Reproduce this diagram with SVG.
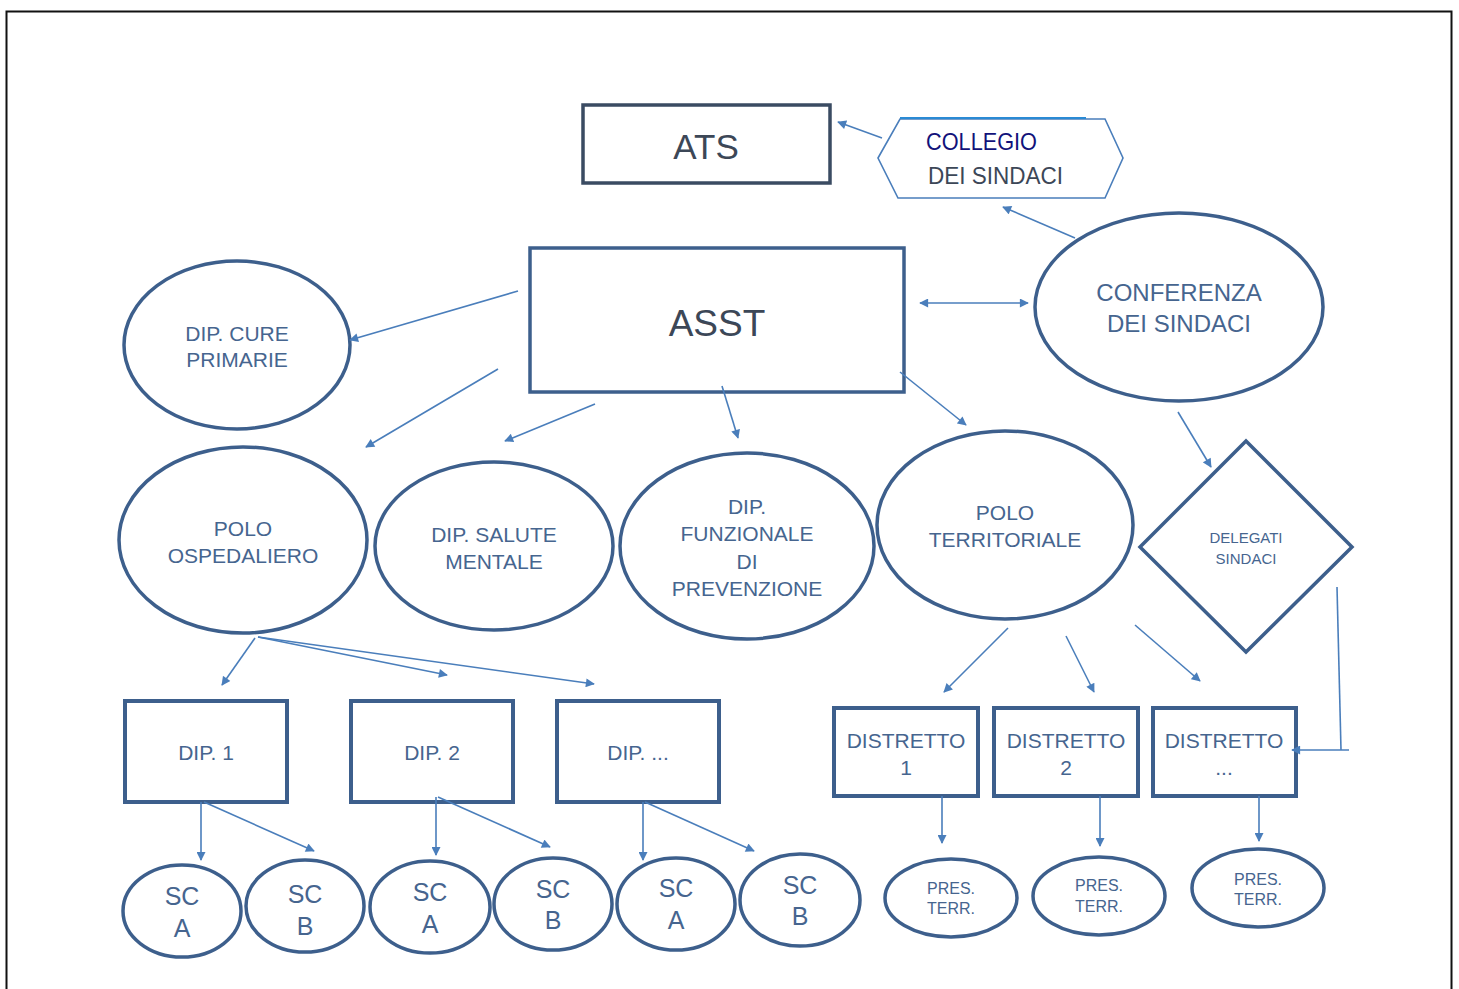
<svg xmlns="http://www.w3.org/2000/svg" width="1459" height="989" viewBox="0 0 1459 989">
<defs>
<marker id="ah" viewBox="0 0 10 10" refX="9" refY="5" markerWidth="10" markerHeight="9" markerUnits="userSpaceOnUse" orient="auto-start-reverse">
<path d="M0,0 L10,5 L0,10 z" fill="#4a7ebb"/>
</marker>
<style>
.n{fill:#fff;stroke:#3d5f8c;stroke-width:3.5}
.b{fill:#fff;stroke:#3d5f8c;stroke-width:4}
.t{font-family:"Liberation Sans",Arial,sans-serif;fill:#46658f;text-anchor:middle}
.c{stroke:#4a7ebb;stroke-width:1.6;fill:none;marker-end:url(#ah)}
</style>
</defs>
<rect x="0" y="0" width="1459" height="989" fill="#fff"/>
<rect x="6.5" y="11.5" width="1445" height="1000" fill="none" stroke="#111" stroke-width="2"/>

<g id="ats">
<rect x="583" y="105" width="247" height="78" fill="#fff" stroke="#3a4b62" stroke-width="3.5"/>
<text x="706" y="159" class="t" font-size="35" style="fill:#3c4757">ATS</text>
</g>
<g id="collegio">
<polygon points="878,158 900,119 1105,119 1123,158 1105,198 898,198" fill="#fff" stroke="#4a7ebb" stroke-width="1.6"/>
<line x1="900" y1="118" x2="1086" y2="118" stroke="#2a8ad4" stroke-width="2"/>
<text x="926" y="150" font-family="Liberation Sans,Arial,sans-serif" font-size="24" fill="#12127a" textLength="111" lengthAdjust="spacingAndGlyphs">COLLEGIO</text>
<text x="928" y="184" font-family="Liberation Sans,Arial,sans-serif" font-size="24" fill="#3c4757" textLength="135" lengthAdjust="spacingAndGlyphs">DEI SINDACI</text>
</g>
<g id="asst">
<rect x="530" y="248" width="374" height="144" class="n"/>
<text x="717" y="336" class="t" font-size="37" style="fill:#3c4757">ASST</text>
</g>
<g id="conferenza">
<ellipse cx="1179" cy="307" rx="144" ry="94" class="n"/>
<text x="1179" y="301" class="t" font-size="24">CONFERENZA</text>
<text x="1179" y="332" class="t" font-size="24">DEI SINDACI</text>
</g>
<g id="cure">
<ellipse cx="237" cy="345" rx="113" ry="84" class="n"/>
<text x="237" y="341" class="t" font-size="21">DIP. CURE</text>
<text x="237" y="367" class="t" font-size="21">PRIMARIE</text>
</g>
<g id="ospedaliero">
<ellipse cx="243" cy="540" rx="124" ry="93" class="n"/>
<text x="243" y="536" class="t" font-size="21">POLO</text>
<text x="243" y="563" class="t" font-size="21">OSPEDALIERO</text>
</g>
<g id="salute">
<ellipse cx="494" cy="546" rx="119" ry="84" class="n"/>
<text x="494" y="542" class="t" font-size="21">DIP. SALUTE</text>
<text x="494" y="569" class="t" font-size="21">MENTALE</text>
</g>
<g id="prevenzione">
<ellipse cx="747" cy="546" rx="127" ry="93" class="n"/>
<text x="747" y="514" class="t" font-size="21">DIP.</text>
<text x="747" y="541" class="t" font-size="21">FUNZIONALE</text>
<text x="747" y="569" class="t" font-size="21">DI</text>
<text x="747" y="596" class="t" font-size="21">PREVENZIONE</text>
</g>
<g id="territoriale">
<ellipse cx="1005" cy="525" rx="128" ry="94" class="n"/>
<text x="1005" y="520" class="t" font-size="21">POLO</text>
<text x="1005" y="547" class="t" font-size="21">TERRITORIALE</text>
</g>
<g id="delegati">
<polygon points="1246,441 1352,547 1246,652 1140,547" class="n"/>
<text x="1246" y="543" class="t" font-size="15">DELEGATI</text>
<text x="1246" y="564" class="t" font-size="15">SINDACI</text>
</g>

<g id="dip1"><rect x="125" y="701" width="162" height="101" class="b"/><text x="206" y="760" class="t" font-size="21">DIP. 1</text></g>
<g id="dip2"><rect x="351" y="701" width="162" height="101" class="b"/><text x="432" y="760" class="t" font-size="21">DIP. 2</text></g>
<g id="dip3"><rect x="557" y="701" width="162" height="101" class="b"/><text x="638" y="760" class="t" font-size="21">DIP. ...</text></g>

<g id="sc1a"><ellipse cx="182" cy="911" rx="59" ry="46" class="n"/><text x="182" y="905" class="t" font-size="25">SC</text><text x="182" y="937" class="t" font-size="25">A</text></g>
<g id="sc1b"><ellipse cx="305" cy="906" rx="59" ry="46" class="n"/><text x="305" y="903" class="t" font-size="25">SC</text><text x="305" y="935" class="t" font-size="25">B</text></g>
<g id="sc2a"><ellipse cx="430" cy="907" rx="60" ry="46" class="n"/><text x="430" y="901" class="t" font-size="25">SC</text><text x="430" y="933" class="t" font-size="25">A</text></g>
<g id="sc2b"><ellipse cx="553" cy="904" rx="59" ry="46" class="n"/><text x="553" y="898" class="t" font-size="25">SC</text><text x="553" y="929" class="t" font-size="25">B</text></g>
<g id="sc3a"><ellipse cx="676" cy="904" rx="59" ry="46" class="n"/><text x="676" y="897" class="t" font-size="25">SC</text><text x="676" y="929" class="t" font-size="25">A</text></g>
<g id="sc3b"><ellipse cx="800" cy="900" rx="60" ry="46" class="n"/><text x="800" y="894" class="t" font-size="25">SC</text><text x="800" y="925" class="t" font-size="25">B</text></g>

<g id="distretto1"><rect x="834" y="708" width="144" height="88" class="b"/><text x="906" y="748" class="t" font-size="21">DISTRETTO</text><text x="906" y="775" class="t" font-size="21">1</text></g>
<g id="distretto2"><rect x="994" y="708" width="144" height="88" class="b"/><text x="1066" y="748" class="t" font-size="21">DISTRETTO</text><text x="1066" y="775" class="t" font-size="21">2</text></g>
<g id="distretto3"><rect x="1153" y="708" width="143" height="88" class="b"/><text x="1224" y="748" class="t" font-size="21">DISTRETTO</text><text x="1224" y="775" class="t" font-size="21">...</text></g>

<g id="pres1"><ellipse cx="951" cy="898" rx="66" ry="39" class="n"/><text x="951" y="894" class="t" font-size="16">PRES.</text><text x="951" y="914" class="t" font-size="16">TERR.</text></g>
<g id="pres2"><ellipse cx="1099" cy="896" rx="66" ry="39" class="n"/><text x="1099" y="891" class="t" font-size="16">PRES.</text><text x="1099" y="912" class="t" font-size="16">TERR.</text></g>
<g id="pres3"><ellipse cx="1258" cy="888" rx="66" ry="39" class="n"/><text x="1258" y="885" class="t" font-size="16">PRES.</text><text x="1258" y="905" class="t" font-size="16">TERR.</text></g>

<g id="connectors">
<line x1="882" y1="138" x2="838" y2="122" class="c"/>
<line x1="1075" y1="238" x2="1003" y2="207" class="c"/>
<line x1="920" y1="303" x2="1028" y2="303" class="c" style="marker-start:url(#ah)"/>
<line x1="518" y1="291" x2="350" y2="340" class="c"/>
<line x1="498" y1="369" x2="366" y2="447" class="c"/>
<line x1="595" y1="404" x2="505" y2="441" class="c"/>
<line x1="722" y1="386" x2="738" y2="438" class="c"/>
<line x1="900" y1="372" x2="966" y2="425" class="c"/>
<line x1="1178" y1="412" x2="1211" y2="467" class="c"/>
<line x1="255" y1="638" x2="222" y2="685" class="c"/>
<line x1="258" y1="637" x2="447" y2="675" class="c"/>
<line x1="258" y1="637" x2="594" y2="684" class="c"/>
<line x1="201" y1="802" x2="201" y2="860" class="c"/>
<line x1="204" y1="802" x2="314" y2="851" class="c"/>
<line x1="436" y1="797" x2="436" y2="855" class="c"/>
<line x1="438" y1="797" x2="550" y2="847" class="c"/>
<line x1="643" y1="802" x2="643" y2="860" class="c"/>
<line x1="645" y1="802" x2="754" y2="851" class="c"/>
<line x1="1008" y1="628" x2="944" y2="692" class="c"/>
<line x1="1066" y1="636" x2="1094" y2="692" class="c"/>
<line x1="1135" y1="625" x2="1200" y2="681" class="c"/>
<line x1="942" y1="796" x2="942" y2="843" class="c"/>
<line x1="1100" y1="796" x2="1100" y2="846" class="c"/>
<line x1="1259" y1="796" x2="1259" y2="841" class="c"/>
<polyline points="1337,587 1341,750" fill="none" stroke="#4a7ebb" stroke-width="1.6"/>
<line x1="1349" y1="750" x2="1292" y2="750" class="c"/>
</g>
</svg>
